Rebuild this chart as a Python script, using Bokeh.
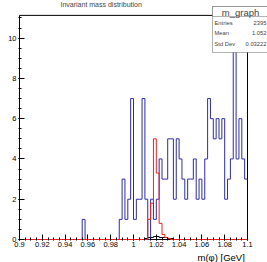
from bokeh.plotting import figure
from bokeh.models import Range1d, BoxAnnotation, Label, Title, FixedTicker
from bokeh.embed import file_html
from bokeh.resources import INLINE

# ---- data ----
x_min, x_max = 0.9, 1.1
bin_width = 0.0025
blue_counts = [0] * 22 + [1] + [0] * 12 + [
    1, 3, 1, 2, 7, 1, 2, 2, 7, 2,
    0, 2, 1, 2, 4, 3, 3, 5, 5, 2,
    5, 4, 3, 2, 3, 3, 4, 2, 3, 2,
    4, 7, 6, 5, 6, 5, 6, 2, 3, 4,
    10.6, 4, 6, 4, 3]
red_counts = [0] * 45 + [1.0, 1.8, 5.0, 3.3, 0.8, 0.25, 0.1, 0.05] + [0] * 27
black_counts = [0] * 44 + [0.05, 0.1, 0.1, 0.15, 0.15, 0.1, 0.1, 0.1, 0.05, 0.05] + [0] * 26
x_ticks = [0.9, 0.92, 0.94, 0.96, 0.98, 1.0, 1.02, 1.04, 1.06, 1.08, 1.1]
x_tick_labels = ["0.9", "0.92", "0.94", "0.96", "0.98", "1", "1.02", "1.04", "1.06", "1.08", "1.1"]
y_ticks = [0, 2, 4, 6, 8, 10]
y_max = 11.13
stats_name = "m_graph"
stats_keys = ["Entries", "Mean", "Std Dev"]
stats_vals = ["2395", "1.052", "0.03222"]
title_text = "Invariant mass distribution"
x_label = "m(\u03c6) [GeV]"

FONT = "Liberation Sans"

# ---- layout (pixels) ----
W, H = 267, 262
LEFT, BOTTOM = 18, 20
box_l, box_r = 19, 247      # plot box left/right in canvas px
box_t, box_b = 15, 241      # plot box top/bottom in canvas px
frame_w = W - LEFT
frame_h = H - BOTTOM
xs = (box_r - box_l) / (x_max - x_min)
x_start = x_min - (box_l - LEFT) / xs
x_end = x_start + frame_w / xs
ys = (box_b - box_t) / y_max
y_start = -(frame_h - box_b) / ys
y_end = y_start + frame_h / ys

edges = [x_min + i * bin_width for i in range(len(blue_counts) + 1)]

p = figure(width=W, height=H, x_range=Range1d(x_start, x_end), y_range=Range1d(y_start, y_end),
           output_backend="svg", toolbar_location=None, title=None,
           min_border_left=LEFT, min_border_right=0, min_border_top=0, min_border_bottom=BOTTOM)
p.grid.visible = False
p.outline_line_color = None
p.background_fill_color = "white"
p.border_fill_color = "white"

# plot box
p.line([x_min, x_min, x_max, x_max, x_min], [0, y_max, y_max, 0, 0], line_color="black", line_width=1)

p.step(edges, black_counts + [black_counts[-1]], mode="after", line_color="black", line_width=1)
p.step(edges, blue_counts + [blue_counts[-1]], mode="after", line_color="#2b2bb0", line_width=1)
p.step(edges, red_counts + [red_counts[-1]], mode="after", line_color="#ff1a1a", line_width=1)

minor_x = [round(x_min + 0.005 * k, 4) for k in range(41)]
minor_y = [0.5 * k for k in range(23)]
p.xaxis.ticker = FixedTicker(ticks=x_ticks, minor_ticks=minor_x)
p.xaxis.major_label_overrides = {t: l for t, l in zip(x_ticks, x_tick_labels)}
p.yaxis.ticker = FixedTicker(ticks=y_ticks, minor_ticks=minor_y)

for ax in (p.xaxis[0], p.yaxis[0]):
    ax.major_tick_in = 6
    ax.major_tick_out = 0
    ax.minor_tick_in = 3
    ax.minor_tick_out = 0
    ax.major_label_standoff = 2
    ax.major_label_text_font = FONT
    ax.major_label_text_font_size = "7.5px"
    ax.major_label_text_color = "black"
    ax.axis_line_color = None
    ax.major_tick_line_color = "black"
    ax.minor_tick_line_color = "black"
p.xaxis.major_label_standoff = 1

p.add_layout(Title(text=x_label, align="left", text_font=FONT, text_font_size="9.5px",
                   text_font_style="normal", text_color="black", standoff=0,
                   offset=box_r - LEFT - 50), "below")

# main title (small, at the top)
p.add_layout(Label(x=60, y=0, x_units="canvas", y_units="canvas", text=title_text,
                   text_font=FONT, text_font_size="7px", text_color="#444444",
                   text_baseline="top", text_align="left"))

# stats box
p.add_layout(BoxAnnotation(left=212, right=270, top=6, bottom=52,
                           left_units="canvas", right_units="canvas", top_units="canvas", bottom_units="canvas",
                           fill_color="white", fill_alpha=1, line_color="black", line_width=1))
p.add_layout(BoxAnnotation(left=212, right=270, top=6, bottom=16,
                           left_units="canvas", right_units="canvas", top_units="canvas", bottom_units="canvas",
                           fill_color="white", fill_alpha=1, line_color="black", line_width=1))
p.add_layout(Label(x=240, y=11.5, x_units="canvas", y_units="canvas", text=stats_name,
                   text_font=FONT, text_font_size="9.5px", text_align="center", text_baseline="middle"))
for k, (key, val) in enumerate(zip(stats_keys, stats_vals)):
    yy = 22 + 10.8 * k
    p.add_layout(Label(x=214, y=yy, x_units="canvas", y_units="canvas", text=key,
                       text_font=FONT, text_font_size="5.8px", text_align="left", text_baseline="middle"))
    p.add_layout(Label(x=266, y=yy, x_units="canvas", y_units="canvas", text=val,
                       text_font=FONT, text_font_size="5.8px", text_align="right", text_baseline="middle"))

open("out.html", "w").write(file_html(p, INLINE))
